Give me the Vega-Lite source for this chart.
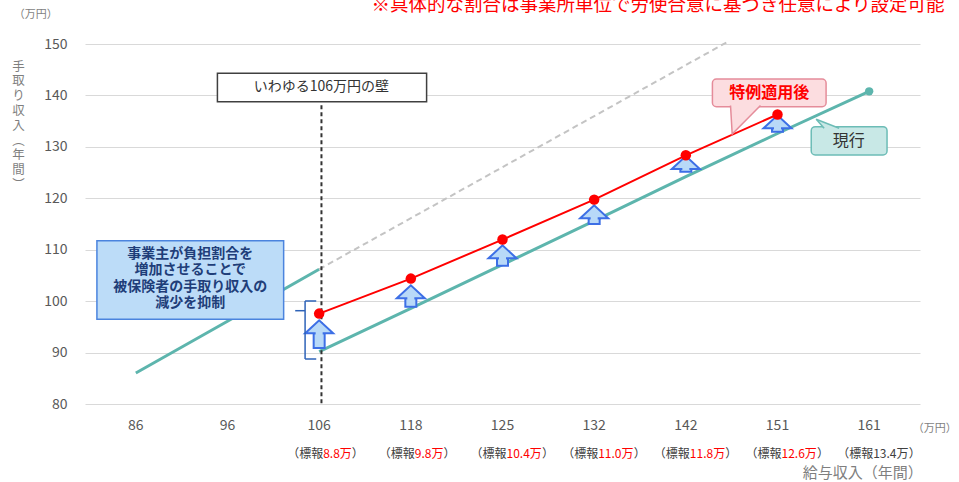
{
  "$schema": "https://vega.github.io/schema/vega-lite/v6.json",
  "width": 835,
  "height": 360,
  "autosize": {"type": "none"},
  "padding": {"left": 85, "top": 44, "right": 39, "bottom": 78},
  "config": {
    "view": {"stroke": null},
    "font": "Noto Sans CJK JP",
    "axisY": {"grid": true, "gridColor": "#d9d9d9", "gridWidth": 1, "domain": false, "ticks": false,
      "labelFontSize": 14, "labelColor": "#595959", "labelPadding": 18, "labelFont": "Noto Sans CJK JP"}
  },
  "datasets": {
    "lines": [
      {"series": "現行", "seg": "a", "pos": 0, "value": 86.03},
      {"series": "現行", "seg": "a", "pos": 1, "value": 96.1},
      {"series": "現行", "seg": "a", "pos": 2, "value": 106.2},
      {"series": "現行", "seg": "b", "pos": 2, "value": 90.17},
      {"series": "現行", "seg": "b", "pos": 3, "value": 98.6},
      {"series": "現行", "seg": "b", "pos": 4, "value": 107.1},
      {"series": "現行", "seg": "b", "pos": 5, "value": 115.6},
      {"series": "現行", "seg": "b", "pos": 6, "value": 124.2},
      {"series": "現行", "seg": "b", "pos": 7, "value": 132.6},
      {"series": "現行", "seg": "b", "pos": 8, "value": 140.8},
      {"series": "特例適用後", "seg": "c", "pos": 2, "value": 97.58},
      {"series": "特例適用後", "seg": "c", "pos": 3, "value": 104.38},
      {"series": "特例適用後", "seg": "c", "pos": 4, "value": 111.97},
      {"series": "特例適用後", "seg": "c", "pos": 5, "value": 119.74},
      {"series": "特例適用後", "seg": "c", "pos": 6, "value": 128.36},
      {"series": "特例適用後", "seg": "c", "pos": 7, "value": 136.29},
      {"series": "参考", "seg": "d", "pos": 2, "value": 106.2},
      {"series": "参考", "seg": "d", "pos": 6.452, "value": 150.39}
    ],
    "arrows": [
      {"pos": 2, "base": 90.89, "neck": 93.75},
      {"pos": 3, "base": 98.92, "neck": 100.55},
      {"pos": 4, "base": 106.89, "neck": 108.33},
      {"pos": 5, "base": 115.0, "neck": 116.1},
      {"pos": 6, "base": 125.17, "neck": 125.69},
      {"pos": 7, "base": 132.95, "neck": 133.61}
    ],
    "ticks": [
      {"pos": 0, "salary": "86"},
      {"pos": 1, "salary": "96"},
      {"pos": 2, "salary": "106", "hyoho": "8.8万"},
      {"pos": 3, "salary": "118", "hyoho": "9.8万"},
      {"pos": 4, "salary": "125", "hyoho": "10.4万"},
      {"pos": 5, "salary": "132", "hyoho": "11.0万"},
      {"pos": 6, "salary": "142", "hyoho": "11.8万"},
      {"pos": 7, "salary": "151", "hyoho": "12.6万"},
      {"pos": 8, "salary": "161", "hyoho": "13.4万"}
    ],
    "one": [{}]
  },
  "layer": [
    {
      "data": {"name": "lines"},
      "transform": [{"filter": "datum.series == '現行'"}],
      "mark": {"type": "line", "color": "#5db5ad", "strokeWidth": 3},
      "encoding": {
        "x": {"field": "pos", "type": "quantitative", "scale": {"domain": [-0.5, 8.5], "nice": false, "zero": false}, "axis": null},
        "y": {"field": "value", "type": "quantitative", "scale": {"domain": [80, 150], "nice": false, "zero": false},
          "axis": {"values": [80, 90, 100, 110, 120, 130, 140, 150],
            "title": ["手", "取", "り", "収", "入", "︵", "年", "間", "︶"], "titleAngle": 0, "titleX": -67, "titleY": 16, "titleBaseline": "top", "titleAlign": "center",
            "titleLineHeight": 14.8, "titleFontSize": 12.5, "titleColor": "#7f7f7f", "titleFontWeight": "normal", "titleFont": "Noto Sans CJK JP"}},
        "detail": {"field": "seg"}
      }
    },
    {
      "data": {"name": "lines"},
      "transform": [{"filter": "datum.series == '参考'"}],
      "mark": {"type": "line", "color": "#c4c4c4", "strokeWidth": 2, "strokeDash": [6, 4]},
      "encoding": {
        "x": {"field": "pos", "type": "quantitative", "axis": null},
        "y": {"field": "value", "type": "quantitative"}
      }
    },
    {
      "data": {"name": "lines"},
      "transform": [{"filter": "datum.series == '現行' && datum.pos == 8"}],
      "mark": {"type": "point", "filled": true, "color": "#5db5ad", "size": 70, "opacity": 1},
      "encoding": {
        "x": {"field": "pos", "type": "quantitative", "axis": null},
        "y": {"field": "value", "type": "quantitative"}
      }
    },
    {
      "data": {"name": "one"},
      "mark": {"type": "rule", "color": "#333333", "strokeWidth": 2, "strokeDash": [4, 3]},
      "encoding": {
        "x": {"datum": 2.025, "type": "quantitative", "axis": null},
        "y": {"datum": 138.1, "type": "quantitative"},
        "y2": {"datum": 80}
      }
    },
    {
      "data": {"name": "lines"},
      "transform": [{"filter": "datum.series == '特例適用後'"}],
      "mark": {"type": "line", "color": "#ff0000", "strokeWidth": 2},
      "encoding": {
        "x": {"field": "pos", "type": "quantitative", "axis": null},
        "y": {"field": "value", "type": "quantitative"}
      }
    },
    {
      "data": {"name": "arrows"},
      "mark": {"type": "bar", "width": 11, "fill": "#b8d9f8", "stroke": "#3d6fe6", "strokeWidth": 2},
      "encoding": {
        "x": {"field": "pos", "type": "quantitative", "axis": null},
        "y": {"field": "base", "type": "quantitative"},
        "y2": {"field": "neck"}
      }
    },
    {
      "data": {"name": "arrows"},
      "mark": {"type": "point", "shape": "M-1,0L0,-0.93L1,0Z", "size": 784, "filled": true, "fill": "#b8d9f8", "stroke": "#3d6fe6", "strokeWidth": 2, "opacity": 1},
      "encoding": {
        "x": {"field": "pos", "type": "quantitative", "axis": null},
        "y": {"field": "neck", "type": "quantitative"}
      }
    },
    {
      "data": {"name": "arrows"},
      "mark": {"type": "bar", "width": 7, "fill": "#b8d9f8", "yOffset": -1.5, "y2Offset": -1.5},
      "encoding": {
        "x": {"field": "pos", "type": "quantitative", "axis": null},
        "y": {"field": "base", "type": "quantitative"},
        "y2": {"field": "neck"}
      }
    },
    {
      "data": {"name": "lines"},
      "transform": [{"filter": "datum.series == '特例適用後'"}],
      "mark": {"type": "point", "filled": true, "color": "#ff0000", "size": 110, "opacity": 1},
      "encoding": {
        "x": {"field": "pos", "type": "quantitative", "axis": null},
        "y": {"field": "value", "type": "quantitative"}
      }
    },
    {
      "data": {"name": "one"},
      "mark": {"type": "rect", "fill": "#ffffff", "stroke": "#404040", "strokeWidth": 1.5},
      "encoding": {
        "x": {"datum": 0.89, "type": "quantitative", "axis": null},
        "x2": {"datum": 3.172},
        "y": {"datum": 144.3, "type": "quantitative"},
        "y2": {"datum": 138.78}
      }
    },
    {
      "data": {"name": "one"},
      "mark": {"type": "text", "fontSize": 14, "color": "#333333", "align": "center", "baseline": "middle"},
      "encoding": {
        "x": {"datum": 2.025, "type": "quantitative", "axis": null},
        "y": {"datum": 141.7, "type": "quantitative"},
        "text": {"value": "いわゆる106万円の壁"}
      }
    },
    {
      "data": {"name": "one"},
      "mark": {"type": "rect", "fill": "#bcdcf8", "stroke": "#4b84de", "strokeWidth": 1.5},
      "encoding": {
        "x": {"datum": -0.4246, "type": "quantitative", "axis": null},
        "x2": {"datum": 1.6125},
        "y": {"datum": 111.75, "type": "quantitative"},
        "y2": {"datum": 96.47}
      }
    },
    {
      "data": {"name": "one"},
      "mark": {"type": "text", "fontSize": 14, "fontWeight": "bold", "color": "#1f3e79", "align": "center", "baseline": "middle", "lineHeight": 16.5},
      "encoding": {
        "x": {"datum": 0.594, "type": "quantitative", "axis": null},
        "y": {"datum": 109.2, "type": "quantitative"},
        "text": {"value": ["事業主が負担割合を", "増加させることで", "被保険者の手取り収入の", "減少を抑制"]}
      }
    },
    {
      "data": {"name": "one"},
      "mark": {"type": "rule", "color": "#2e63b8", "strokeWidth": 1.5},
      "encoding": {
        "x": {"datum": 1.8464, "type": "quantitative", "axis": null},
        "x2": {"datum": 1.968},
        "y": {"datum": 100.03, "type": "quantitative"}
      }
    },
    {
      "data": {"name": "one"},
      "mark": {"type": "rule", "color": "#2e63b8", "strokeWidth": 1.5},
      "encoding": {
        "x": {"datum": 1.8464, "type": "quantitative", "axis": null},
        "y": {"datum": 100.03, "type": "quantitative"},
        "y2": {"datum": 88.75}
      }
    },
    {
      "data": {"name": "one"},
      "mark": {"type": "rule", "color": "#2e63b8", "strokeWidth": 1.5},
      "encoding": {
        "x": {"datum": 1.8464, "type": "quantitative", "axis": null},
        "x2": {"datum": 1.968},
        "y": {"datum": 88.75, "type": "quantitative"}
      }
    },
    {
      "data": {"name": "one"},
      "mark": {"type": "rule", "color": "#2e63b8", "strokeWidth": 1.5},
      "encoding": {
        "x": {"datum": 1.7386, "type": "quantitative", "axis": null},
        "x2": {"datum": 1.8464},
        "y": {"datum": 98.14, "type": "quantitative"}
      }
    },
    {
      "data": {"name": "one"},
      "mark": {"type": "rect", "fill": "#fcdde0", "stroke": "#e58c9a", "strokeWidth": 1.5, "cornerRadius": 4},
      "encoding": {
        "x": {"datum": 6.29, "type": "quantitative", "axis": null},
        "x2": {"datum": 7.53},
        "y": {"datum": 143.19, "type": "quantitative"},
        "y2": {"datum": 137.81}
      }
    },
    {
      "data": {"name": "one"},
      "mark": {"type": "point", "shape": "M-0.12,-2.04L0,0L2.02,-2.04", "size": 784, "filled": true, "fill": "#fcdde0", "stroke": "#e58c9a", "strokeWidth": 1.5, "opacity": 1},
      "encoding": {
        "x": {"datum": 6.5058, "type": "quantitative", "axis": null},
        "y": {"datum": 132.5, "type": "quantitative"}
      }
    },
    {
      "data": {"name": "one"},
      "mark": {"type": "text", "fontSize": 16, "fontWeight": "bold", "color": "#ff0000", "align": "center", "baseline": "middle"},
      "encoding": {
        "x": {"datum": 6.91, "type": "quantitative", "axis": null},
        "y": {"datum": 140.47, "type": "quantitative"},
        "text": {"value": "特例適用後"}
      }
    },
    {
      "data": {"name": "one"},
      "mark": {"type": "rect", "fill": "#c8e8e6", "stroke": "#6cbcb6", "strokeWidth": 1.5, "cornerRadius": 4},
      "encoding": {
        "x": {"datum": 7.368, "type": "quantitative", "axis": null},
        "x2": {"datum": 8.195},
        "y": {"datum": 133.92, "type": "quantitative"},
        "y2": {"datum": 128.42}
      }
    },
    {
      "data": {"name": "one"},
      "mark": {"type": "point", "shape": "M0.57,0.64L0,0L1.64,0.64", "size": 784, "filled": true, "fill": "#c8e8e6", "stroke": "#6cbcb6", "strokeWidth": 1.5, "opacity": 1},
      "encoding": {
        "x": {"datum": 7.422, "type": "quantitative", "axis": null},
        "y": {"datum": 135.36, "type": "quantitative"}
      }
    },
    {
      "data": {"name": "one"},
      "mark": {"type": "text", "fontSize": 16, "color": "#333333", "align": "center", "baseline": "middle"},
      "encoding": {
        "x": {"datum": 7.778, "type": "quantitative", "axis": null},
        "y": {"datum": 131.14, "type": "quantitative"},
        "text": {"value": "現行"}
      }
    },
    {
      "data": {"name": "one"},
      "mark": {"type": "text", "fontSize": 18.5, "color": "#ff0000", "align": "right", "baseline": "alphabetic"},
      "encoding": {
        "x": {"datum": 8.823, "type": "quantitative", "axis": null},
        "y": {"datum": 156.4, "type": "quantitative"},
        "text": {"value": "※具体的な割合は事業所単位で労使合意に基づき任意により設定可能"}
      }
    },
    {
      "data": {"name": "one"},
      "mark": {"type": "text", "fontSize": 11, "color": "#7f7f7f", "align": "center", "baseline": "middle"},
      "encoding": {
        "x": {"datum": -1.093, "type": "quantitative", "axis": null},
        "y": {"datum": 155.64, "type": "quantitative"},
        "text": {"value": "（万円）"}
      }
    },
    {
      "data": {"name": "one"},
      "mark": {"type": "text", "fontSize": 11, "color": "#7f7f7f", "align": "center", "baseline": "middle"},
      "encoding": {
        "x": {"datum": 8.715, "type": "quantitative", "axis": null},
        "y": {"datum": 75.14, "type": "quantitative"},
        "text": {"value": "（万円）"}
      }
    },
    {
      "data": {"name": "one"},
      "mark": {"type": "text", "fontSize": 15, "color": "#7f7f7f", "align": "right", "baseline": "middle"},
      "encoding": {
        "x": {"datum": 8.586, "type": "quantitative", "axis": null},
        "y": {"datum": 66.58, "type": "quantitative"},
        "text": {"value": "給与収入（年間）"}
      }
    },
    {
      "data": {"name": "ticks"},
      "mark": {"type": "text", "fontSize": 14, "color": "#595959", "align": "center", "baseline": "middle"},
      "encoding": {
        "x": {"field": "pos", "type": "quantitative", "axis": null},
        "y": {"datum": 75.72, "type": "quantitative"},
        "text": {"field": "salary", "type": "nominal"}
      }
    },
    {
      "data": {"name": "ticks"},
      "transform": [{"filter": "isValid(datum.hyoho)"}],
      "mark": {"type": "text", "fontSize": 12, "color": "#404040", "align": "right", "baseline": "middle", "dx": 4},
      "encoding": {
        "x": {"field": "pos", "type": "quantitative", "axis": null},
        "y": {"datum": 70.28, "type": "quantitative"},
        "text": {"value": "（標報"}
      }
    },
    {
      "data": {"name": "ticks"},
      "transform": [{"filter": "isValid(datum.hyoho)"}],
      "mark": {"type": "text", "fontSize": 12, "align": "left", "baseline": "middle", "dx": 4},
      "encoding": {
        "x": {"field": "pos", "type": "quantitative", "axis": null},
        "y": {"datum": 70.28, "type": "quantitative"},
        "text": {"field": "hyoho", "type": "nominal"},
        "color": {"condition": {"test": "datum.salary == '161'", "value": "#404040"}, "value": "#ff0000"}
      }
    },
    {
      "data": {"name": "ticks"},
      "transform": [{"filter": "isValid(datum.hyoho) && length(datum.hyoho) == 4"}],
      "mark": {"type": "text", "fontSize": 12, "color": "#404040", "align": "left", "baseline": "middle", "dx": 32.7},
      "encoding": {
        "x": {"field": "pos", "type": "quantitative", "axis": null},
        "y": {"datum": 70.28, "type": "quantitative"},
        "text": {"value": "）"}
      }
    },
    {
      "data": {"name": "ticks"},
      "transform": [{"filter": "isValid(datum.hyoho) && length(datum.hyoho) == 5"}],
      "mark": {"type": "text", "fontSize": 12, "color": "#404040", "align": "left", "baseline": "middle", "dx": 39.5},
      "encoding": {
        "x": {"field": "pos", "type": "quantitative", "axis": null},
        "y": {"datum": 70.28, "type": "quantitative"},
        "text": {"value": "）"}
      }
    }
  ]
}
